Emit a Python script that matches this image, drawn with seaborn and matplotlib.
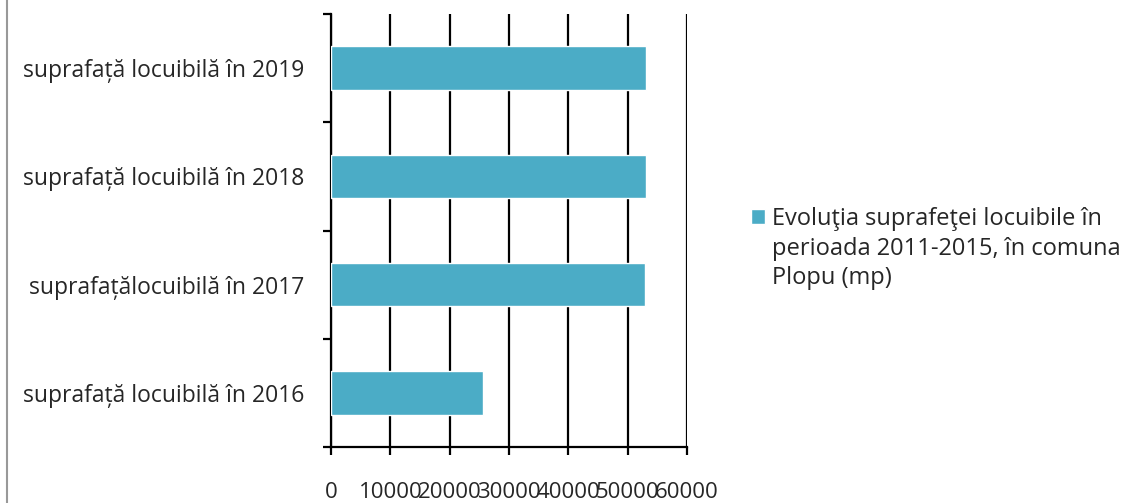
import matplotlib
matplotlib.use("Agg")
import matplotlib.pyplot as plt
import seaborn as sns
import pandas as pd
from matplotlib.lines import Line2D
from matplotlib.ticker import FixedLocator

categories = ["suprafață locuibilă în 2019",
              "suprafață locuibilă în 2018",
              "suprafațălocuibilă în 2017",
              "suprafață locuibilă în 2016"]
values = [53100, 53100, 52900, 25600]
xticks = [0, 10000, 20000, 30000, 40000, 50000, 60000]
series_label = "Evoluţia suprafeţei locuibile în\nperioada 2011-2015, în comuna\nPlopu (mp)"

sns.set_theme(style="white")
plt.rcParams['font.family'] = ['Open Sans', 'DejaVu Sans']

df = pd.DataFrame({"cat": categories, "val": values})

fig = plt.figure(figsize=(11.24, 5.03), dpi=100)
ax = fig.add_axes([331/1124, 1 - 447/503, (687-331)/1124, (447-14)/503])

sns.barplot(data=df, y="cat", x="val", orient="h", color="#4BACC6",
            saturation=1, width=0.4, ax=ax, label=series_label, zorder=3)

ax.set_xlim(0, 60000)
ax.set_ylim(3.5, -0.5)
ax.set_xticks(xticks)
ax.set_xticklabels([str(v) for v in xticks], fontsize=16)
ax.set_xlabel("")
ax.set_ylabel("")
for lbl in ax.get_yticklabels():
    lbl.set_fontsize(16.5)

ax.xaxis.grid(True, color="black", linewidth=1.6, zorder=0)
ax.set_axisbelow(True)
for s in ["top", "right"]:
    ax.spines[s].set_visible(False)
for s in ["left", "bottom"]:
    ax.spines[s].set_visible(True)
    ax.spines[s].set_color("black")
    ax.spines[s].set_linewidth(1.6)

ax.yaxis.set_minor_locator(FixedLocator([-0.5, 0.5, 1.5, 2.5, 3.5]))
ax.tick_params(axis="y", which="major", length=0, pad=19)
ax.tick_params(axis="y", which="minor", left=True, length=6, width=1.6, color="black")
ax.tick_params(axis="x", which="major", bottom=True, length=6, width=1.6, color="black", pad=19)

leg = ax.legend(loc="upper left", bbox_to_anchor=(751/1124, 1 - 207/503),
                bbox_transform=fig.transFigure, frameon=False, fontsize=17,
                handlelength=0.6, handleheight=0.6, handletextpad=0.3,
                borderpad=0, borderaxespad=0)
for t in leg.get_texts():
    t.set_linespacing(1.31)
# align the square with the first line of the label
h = leg.legend_handles[0]
h.set_y(h.get_y() + 33 * 72 / 100)

fig.add_artist(Line2D([7/1124, 7/1124], [0, 1], transform=fig.transFigure,
                      color="#999999", linewidth=1.5))

fig.savefig("out.png", dpi=100)
